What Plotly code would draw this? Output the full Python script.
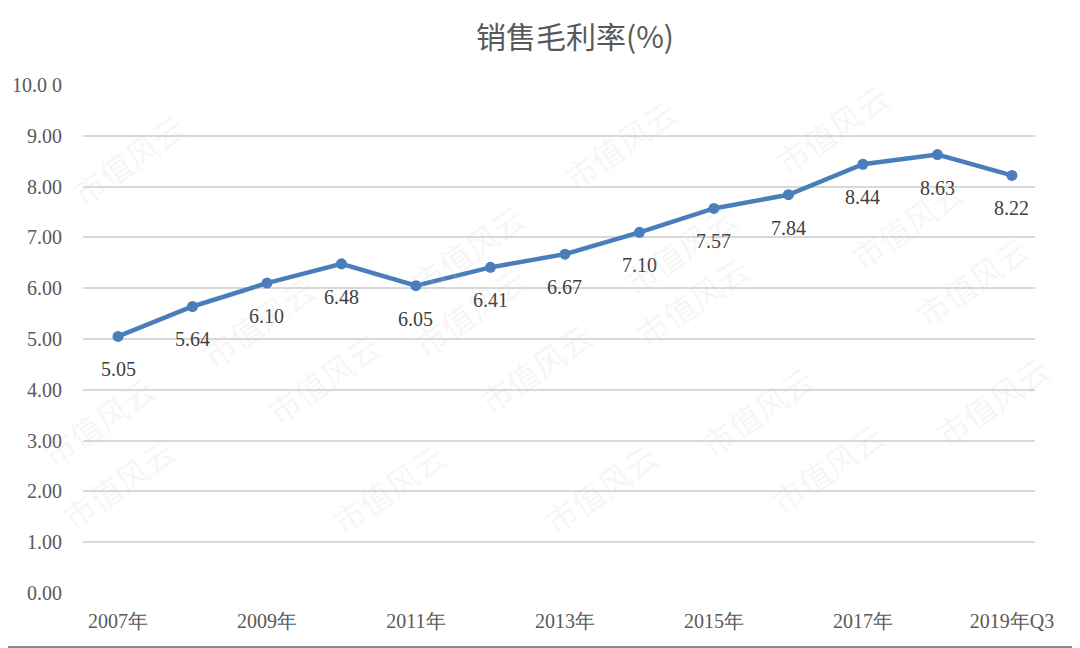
import plotly.graph_objects as go

categories = ["2007年", "2008年", "2009年", "2010年", "2011年", "2012年", "2013年",
              "2014年", "2015年", "2016年", "2017年", "2018年", "2019年Q3"]
margin_values = [5.05, 5.64, 6.10, 6.48, 6.05, 6.41, 6.67, 7.10, 7.57, 7.84, 8.44, 8.63, 8.22]
y_ticks = [0, 1, 2, 3, 4, 5, 6, 7, 8, 9, 10]
y_tick_labels = ["0.00", "1.00", "2.00", "3.00", "4.00", "5.00", "6.00", "7.00", "8.00", "9.00", "10.0 0"]
x_tick_labels = ["2007年", "", "2009年", "", "2011年", "", "2013年", "", "2015年", "", "2017年", "", "2019年Q3"]

x_idx = list(range(len(categories)))

fig = go.Figure()
fig.add_trace(go.Scatter(
    x=x_idx, y=margin_values,
    mode="lines+markers",
    line=dict(color="#4a7ebb", width=4.5),
    marker=dict(color="#4a7ebb", size=11),
    cliponaxis=False,
    showlegend=False,
))

for xi, v in zip(x_idx, margin_values):
    fig.add_annotation(
        x=xi, y=v, xref="x", yref="y", text=f"{v:.2f}", showarrow=False,
        yshift=-33, font=dict(family="Liberation Serif", size=20, color="#404040"),
    )

# faint watermark text (reference page pixel positions)
wm_pos = [(60, 100), (620, 85), (900, 70), (400, 190), (680, 190), (975, 165),
          (190, 320), (470, 310), (760, 300), (1040, 280), (30, 420), (255, 435),
          (535, 425), (825, 410), (1060, 400), (50, 540), (320, 545), (600, 545),
          (895, 525)]
for (px, py) in wm_pos:
    fig.add_annotation(
        x=(px - 83) / 952, y=(592 - py) / 508, xref="paper", yref="paper",
        text="市值风云", showarrow=False, textangle=-35,
        font=dict(family="Noto Sans CJK SC", size=32, color="rgba(200,200,200,0.18)"),
    )

fig.update_layout(
    width=1080, height=648,
    paper_bgcolor="white", plot_bgcolor="white",
    margin=dict(l=75, r=53, t=77, b=63),
    title=dict(text="销售毛利率(%)", x=0.525, xanchor="center", y=0.954, yanchor="middle",
               font=dict(family="Noto Sans CJK SC", size=30, color="#595959")),
    xaxis=dict(
        range=[-0.47, 12.31], automargin=False,
        tickmode="array", tickvals=x_idx, ticktext=x_tick_labels,
        showgrid=False, zeroline=False, showline=False, ticks="",
        ticklabelstandoff=14,
        tickfont=dict(family="Liberation Serif", size=20, color="#595959"),
    ),
    yaxis=dict(
        range=[0, 10], automargin=False,
        tickmode="array", tickvals=y_ticks, ticktext=y_tick_labels,
        showgrid=True, gridcolor="#d9d9d9", gridwidth=2,
        zeroline=False, showline=False, ticks="", ticklabelstandoff=20,
        tickfont=dict(family="Liberation Serif", size=20, color="#595959"),
    ),
)
fig.add_shape(type="line", xref="paper", yref="paper", x0=-83 / 952, x1=997 / 952,
              y0=(592 - 646) / 508, y1=(592 - 646) / 508, line=dict(color="#888888", width=2))

fig.write_html("out.html")
